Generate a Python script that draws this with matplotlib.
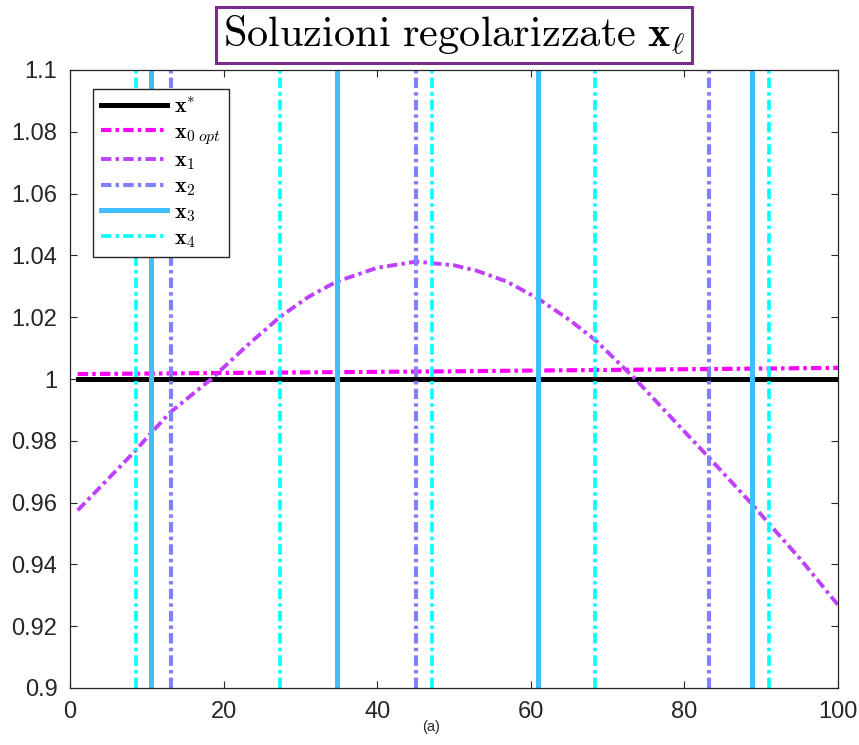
import numpy as np
import matplotlib
matplotlib.use('Agg')
import matplotlib.pyplot as plt

plt.rcParams['mathtext.fontset'] = 'cm'
plt.rcParams['lines.scale_dashes'] = False
plt.rcParams['font.family'] = ['Liberation Sans']

# x* (exact solution)
xstar_x = [1, 100]
xstar_y = [1.0, 1.0]
# x_0 opt
x0_x = [1, 50, 100]
x0_y = [1.0016, 1.0025, 1.0036]
# x_1
x1_x = [1, 8.6, 10.5, 13.1, 18.4, 23, 27.4, 31, 34.7, 40, 45.1, 50, 53, 56.9, 60.9, 65, 68.4, 73.6, 78.6, 83.3, 88.8, 90.9, 95, 100]
x1_y = [0.9575, 0.977, 0.9824, 0.9893, 1.0, 1.0107, 1.0202, 1.0265, 1.0315, 1.0360, 1.0380, 1.0368, 1.0350,
        1.0315, 1.0261, 1.0192, 1.0126, 1.0, 0.9867, 0.9743, 0.9595, 0.9535, 0.9420, 0.9269]
# x_2, x_3, x_4 oscillate far outside the window: only their crossings are visible
x2_cross = [13.1, 45.05, 83.25]
x3_cross = [10.55, 34.8, 61.0, 88.85]
x4_cross = [8.59, 27.4, 47.2, 68.4, 90.97]

col_star = 'black'
col0 = '#FF00FF'
col1 = '#BF40FF'
col2 = '#8080FF'
col3 = '#40BFFF'
col4 = '#00FFFF'
dashdot = (0, (7.5, 3.0, 2.5, 3.0))

fig = plt.figure(figsize=(8.59, 7.45), dpi=100)
ax = fig.add_axes([70/859, 1-688/745, 768/859, 618/745])

ax.plot(xstar_x, xstar_y, color=col_star, lw=3.6, label=r'$\mathbf{x}^{*}$')
ax.plot(x0_x, x0_y, color=col0, lw=3.0, ls=dashdot, label=r'$\mathbf{x}_{0\;opt}$')
ax.plot(x1_x, x1_y, color=col1, lw=2.8, ls=dashdot, label=r'$\mathbf{x}_{1}$')
for i, xc in enumerate(x2_cross):
    ax.axvline(xc, color=col2, lw=3.0, ls=dashdot, label=r'$\mathbf{x}_{2}$' if i == 0 else None)
for i, xc in enumerate(x3_cross):
    ax.axvline(xc, color=col3, lw=3.6, label=r'$\mathbf{x}_{3}$' if i == 0 else None)
for i, xc in enumerate(x4_cross):
    ax.axvline(xc, color=col4, lw=2.6, ls=dashdot, label=r'$\mathbf{x}_{4}$' if i == 0 else None)

ax.set_xlim(0, 100)
ax.set_ylim(0.9, 1.1)
ax.set_xticks(np.arange(0, 101, 20))
ax.set_yticks(np.arange(0.9, 1.1001, 0.02))
ax.set_yticklabels(['0.9', '0.92', '0.94', '0.96', '0.98', '1', '1.02', '1.04', '1.06', '1.08', '1.1'])
ax.tick_params(direction='in', top=True, right=True, length=5, width=0.8, color='#262626',
               labelsize=17, labelcolor='#262626', pad=9)
for s in ax.spines.values():
    s.set_color('#262626')
    s.set_linewidth(0.9)

leg = ax.legend(loc='upper left', bbox_to_anchor=(93/859, 1-89/745), bbox_transform=fig.transFigure,
                borderaxespad=0, fancybox=False, framealpha=1, edgecolor='#262626',
                fontsize=16, handlelength=3.0, labelspacing=0.18, handletextpad=0.3,
                borderpad=0.35)
leg.get_frame().set_linewidth(1.0)

fig.text(454/859, 1-35/745, r'$\mathrm{Soluzioni\ regolarizzate}\ \mathbf{x}_{\ell}$',
         ha='center', va='center', fontsize=30.5,
         bbox=dict(boxstyle='square,pad=0.16', fc='white', ec='#7B2D8E', lw=2.2))

fig.text(431/859, 1-727/745, '(a)', ha='center', va='center', fontsize=10.5, color='#262626')

fig.savefig('out.png', dpi=100)
